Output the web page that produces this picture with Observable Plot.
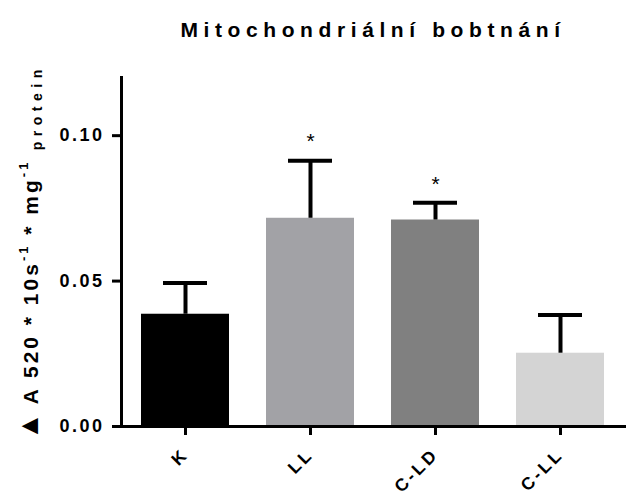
<!DOCTYPE html>
<html>
<head>
<meta charset="utf-8">
<script src="https://cdn.jsdelivr.net/npm/d3@7"></script>
<script src="https://cdn.jsdelivr.net/npm/@observablehq/plot@0.6"></script>
<style>
  body { margin: 0; background: #fff; }
  svg text { font-family: "Liberation Sans", Arial, sans-serif; }
</style>
</head>
<body>
<div id="chart"></div>
<script>
// Mitochondrial swelling per group: mean with upper SD bar
const groups = ["K", "LL", "C-LD", "C-LL"];
const means = [0.0386, 0.0716, 0.0710, 0.0252];
const errors = [0.0107, 0.0198, 0.0059, 0.0131];
const colors = ["#000000", "#a2a2a6", "#808080", "#d4d4d4"];
const marks = ["", "*", "*", ""];
const yTicks = [0, 0.05, 0.10];
const title = "Mitochondriální bobtnání";

const rows = groups.map((g, i) => ({
  group: g, mean: means[i], upper: means[i] + errors[i], color: colors[i], mark: marks[i]
}));

const W = 629, H = 497;
const plot = Plot.plot({
  width: W,
  height: H,
  marginLeft: 121,
  marginRight: 5,
  marginTop: 77,
  marginBottom: 71,
  style: { fontFamily: "Liberation Sans, Arial, sans-serif", background: "#fff" },
  x: { domain: groups, paddingInner: 0.3, paddingOuter: 0.15, label: null },
  y: { domain: [0, 0.12], label: null },
  marks: [
    Plot.barY(rows, { x: "group", y: "mean", fill: "color" }),
    Plot.ruleX(rows, { x: "group", y1: "mean", y2: "upper", stroke: "#000", strokeWidth: 4 }),
    Plot.tickY(rows, { x: "group", y: "upper", stroke: "#000", strokeWidth: 4, insetLeft: 22, insetRight: 22 }),
    Plot.text(rows, { x: "group", y: "upper", text: "mark", dy: -19, fill: "#000", className: "star" }),
    Plot.frame({ anchor: "left", stroke: "#000", strokeWidth: 3 }),
    Plot.frame({ anchor: "bottom", stroke: "#000", strokeWidth: 3 }),
    Plot.axisY({
      ticks: yTicks, tickFormat: d3.format(".2f"), tickSize: 9, tickPadding: 8,
      strokeWidth: 3, label: null, stroke: "#000", color: "#000", className: "yax"
    }),
    Plot.axisX({
      tickSize: 9, tickPadding: 16, tickRotate: -45, strokeWidth: 3,
      label: null, stroke: "#000", color: "#000", className: "xax"
    }),
    Plot.text([title], {
      frameAnchor: "top", dy: -55, text: d => d, fill: "#000", className: "ttl"
    })
  ]
});

const svg = d3.select(plot);
// fonts for axes, stars and title
svg.selectAll("text").attr("font-weight", "bold").attr("font-size", 18).attr("letter-spacing", "2.5px");
svg.selectAll(".xax text").attr("font-size", 17.5).attr("letter-spacing", "3px");
svg.selectAll(".star text").attr("font-weight", "normal").attr("font-size", 21).attr("letter-spacing", null);
svg.selectAll(".ttl text").attr("font-size", 21).attr("letter-spacing", "5.6px");

// y-axis label with superscripts and subscript
const lab = svg.append("text")
  .attr("transform", "translate(38,440) rotate(-90)")
  .attr("text-anchor", "start")
  .attr("font-size", 21)
  .attr("font-weight", "bold")
  .attr("letter-spacing", "3px")
  .attr("fill", "#000");
lab.append("tspan").attr("font-size", 28).attr("letter-spacing", "0px").text("▲");
lab.append("tspan").text(" A 520 * 10s");
lab.append("tspan").attr("dy", -10).attr("font-size", 13).text("-1");
lab.append("tspan").attr("dy", 10).text(" * mg");
lab.append("tspan").attr("dy", -10).attr("font-size", 13).text("-1");
lab.append("tspan").attr("dy", 14).attr("font-size", 14).attr("letter-spacing", "5.5px").text(" protein");

document.getElementById("chart").appendChild(plot);
</script>
</body>
</html>
